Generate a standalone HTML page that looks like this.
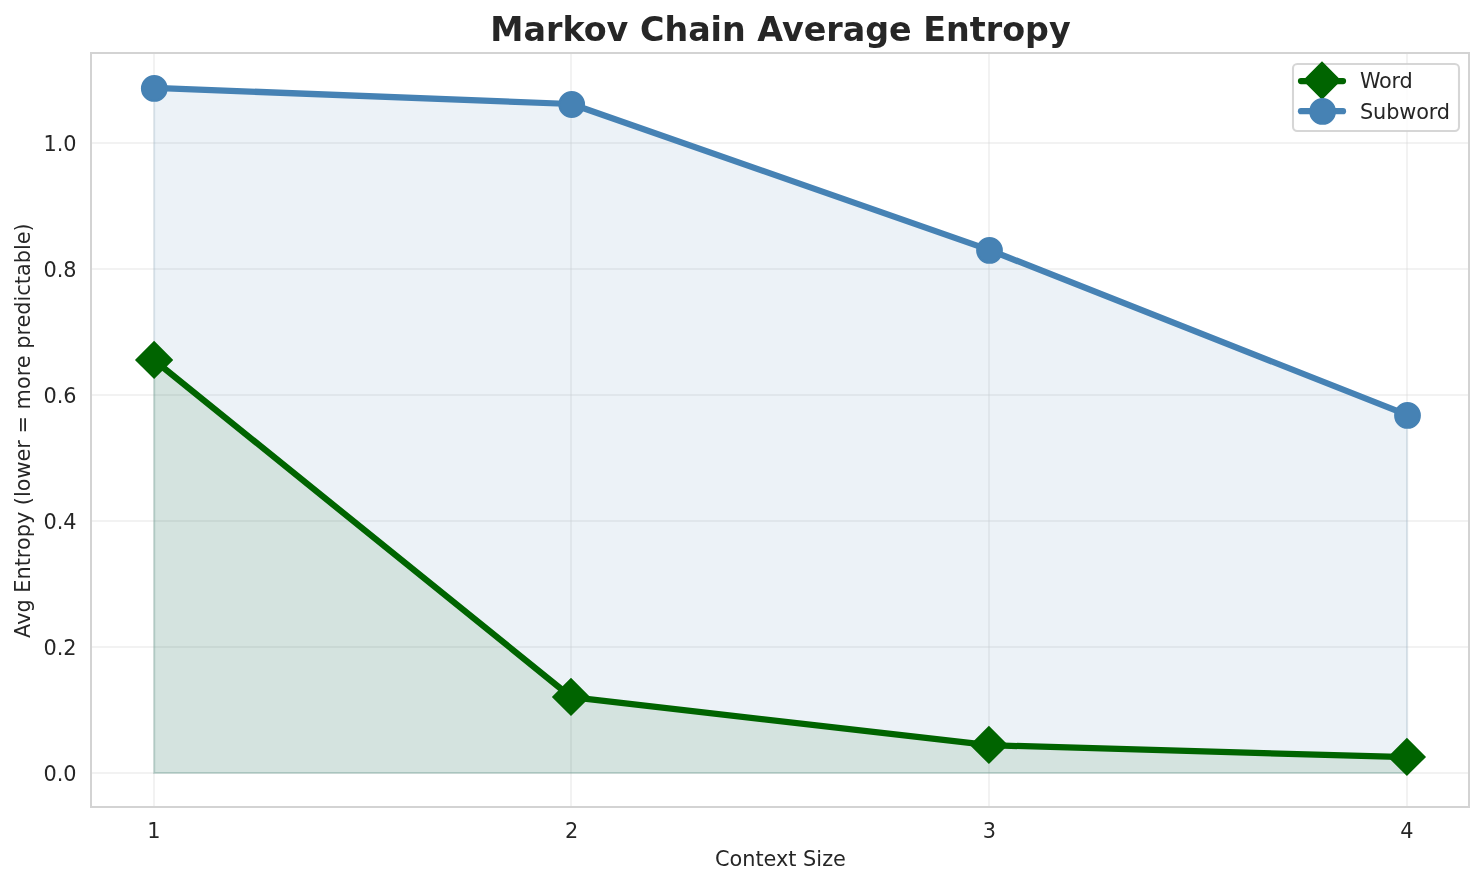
<!DOCTYPE html>
<html lang="en"><head><meta charset="utf-8"><title>Markov Chain Average Entropy</title>
<style>html,body{margin:0;padding:0;background:#fff;overflow:hidden}svg{display:block;will-change:transform}text{font-family:"DejaVu Sans","Liberation Sans",sans-serif;fill:#262626}</style></head><body>
<svg width="1484" height="885" viewBox="0 0 1484 885">
<rect width="1484" height="885" fill="#fff"/>
<g stroke="#d3d3d3" stroke-opacity="0.3" stroke-width="2"><line x1="154.00" y1="53.0" x2="154.00" y2="807.0"/><line x1="571.00" y1="53.0" x2="571.00" y2="807.0"/><line x1="989.00" y1="53.0" x2="989.00" y2="807.0"/><line x1="1407.00" y1="53.0" x2="1407.00" y2="807.0"/><line x1="91.0" y1="773.00" x2="1469.0" y2="773.00"/><line x1="91.0" y1="647.00" x2="1469.0" y2="647.00"/><line x1="91.0" y1="521.00" x2="1469.0" y2="521.00"/><line x1="91.0" y1="395.00" x2="1469.0" y2="395.00"/><line x1="91.0" y1="269.00" x2="1469.0" y2="269.00"/><line x1="91.0" y1="143.00" x2="1469.0" y2="143.00"/></g>
<polygon points="154.20,773.00 154.20,360.20 571.40,697.20 989.20,745.20 1407.20,757.20 1407.20,773.00" fill="#006400" fill-opacity="0.1" stroke="#006400" stroke-opacity="0.1" stroke-width="2.08" stroke-linejoin="miter"/>
<polygon points="154.20,773.00 154.20,87.90 571.40,104.00 989.20,249.90 1407.20,414.90 1407.20,773.00" fill="#4682b4" fill-opacity="0.1" stroke="#4682b4" stroke-opacity="0.1" stroke-width="2.08" stroke-linejoin="miter"/>
<polyline points="154.20,360.20 571.40,697.20 989.20,745.20 1407.20,757.20" fill="none" stroke="#006400" stroke-width="6.25" stroke-linecap="round" stroke-linejoin="round"/>
<path d="M154.10 342.22L171.78 359.90L154.10 377.58L136.42 359.90Z" fill="#006400" stroke="#006400" stroke-width="2.08" stroke-linejoin="miter"/>
<path d="M571.00 679.22L588.68 696.90L571.00 714.58L553.32 696.90Z" fill="#006400" stroke="#006400" stroke-width="2.08" stroke-linejoin="miter"/>
<path d="M988.90 727.22L1006.58 744.90L988.90 762.58L971.22 744.90Z" fill="#006400" stroke="#006400" stroke-width="2.08" stroke-linejoin="miter"/>
<path d="M1406.90 739.22L1424.58 756.90L1406.90 774.58L1389.22 756.90Z" fill="#006400" stroke="#006400" stroke-width="2.08" stroke-linejoin="miter"/>
<polyline points="154.20,87.90 571.40,104.00 989.20,249.90 1407.20,414.90" fill="none" stroke="#4682b4" stroke-width="6.25" stroke-linecap="round" stroke-linejoin="round"/>
<circle cx="154.30" cy="88.40" r="12.4" fill="#4682b4" stroke="#4682b4" stroke-width="2"/>
<circle cx="571.70" cy="104.50" r="12.4" fill="#4682b4" stroke="#4682b4" stroke-width="2"/>
<circle cx="989.50" cy="250.40" r="12.4" fill="#4682b4" stroke="#4682b4" stroke-width="2"/>
<circle cx="1407.50" cy="415.40" r="12.4" fill="#4682b4" stroke="#4682b4" stroke-width="2"/>
<rect x="91.0" y="53.0" width="1378.0" height="754.0" fill="none" stroke="#d3d3d3" stroke-width="2"/>
<text x="153.80" y="838" font-size="20.83" text-anchor="middle">1</text>
<text x="571.60" y="838" font-size="20.83" text-anchor="middle">2</text>
<text x="989.40" y="838" font-size="20.83" text-anchor="middle">3</text>
<text x="1407.00" y="838" font-size="20.83" text-anchor="middle">4</text>
<text x="76.5" y="780.92" font-size="20.83" text-anchor="end">0.0</text>
<text x="76.5" y="654.92" font-size="20.83" text-anchor="end">0.2</text>
<text x="76.5" y="528.92" font-size="20.83" text-anchor="end">0.4</text>
<text x="76.5" y="402.92" font-size="20.83" text-anchor="end">0.6</text>
<text x="76.5" y="276.92" font-size="20.83" text-anchor="end">0.8</text>
<text x="76.5" y="150.92" font-size="20.83" text-anchor="end">1.0</text>
<text x="780.4" y="866" font-size="20.83" text-anchor="middle">Context Size</text>
<text transform="translate(30.2 430.6) rotate(-90)" font-size="20.83" text-anchor="middle">Avg Entropy (lower = more predictable)</text>
<text x="780.5" y="41" font-size="33.33" font-weight="bold" text-anchor="middle">Markov Chain Average Entropy</text>
<rect x="1293" y="64" width="166" height="67" rx="4.2" ry="4.2" fill="#fff" fill-opacity="0.8" stroke="#cccccc" stroke-opacity="0.8" stroke-width="2.08"/>
<line x1="1301" y1="81.1" x2="1343" y2="81.1" stroke="#006400" stroke-width="6.25" stroke-linecap="round"/>
<path d="M1322.00 62.82L1339.68 80.50L1322.00 98.18L1304.32 80.50Z" fill="#006400" stroke="#006400" stroke-width="2.08"/>
<line x1="1301" y1="111.2" x2="1343" y2="111.2" stroke="#4682b4" stroke-width="6.25" stroke-linecap="round"/>
<circle cx="1322.6" cy="111.4" r="12.4" fill="#4682b4" stroke="#4682b4" stroke-width="2"/>
<text x="1360" y="87.7" font-size="20.83" letter-spacing="-0.25">Word</text>
<text x="1360" y="119.3" font-size="20.83" letter-spacing="-0.13">Subword</text>
</svg></body></html>
